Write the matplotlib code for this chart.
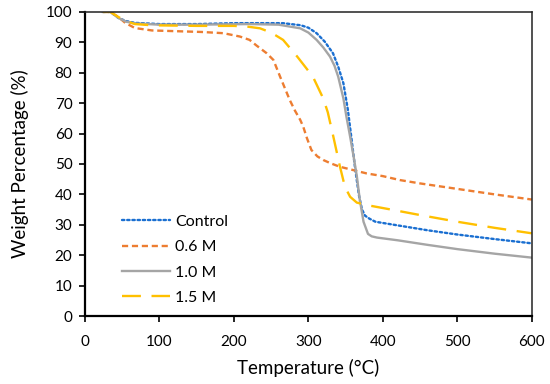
"""TGA curves: weight percentage vs temperature for the four samples."""

import matplotlib.pyplot as plt

plt.rcParams["font.family"] = ["Lato", "DejaVu Sans"]

# values
control_t = [24, 34, 45, 55, 67, 100, 150, 200, 266, 290, 300, 311, 322, 333, 340,
             347, 353, 358, 363, 368, 372, 376, 382, 390, 420, 460, 500, 550, 600]
control_w = [100, 100, 98.0, 97.0, 96.4, 96.0, 96.0, 96.3, 96.3, 95.6, 94.8, 93.0, 90.2,
             86.4, 82.0, 76.5, 67.8, 58.0, 48.0, 39.5, 35.0, 33.0, 32.0, 31.0, 29.8,
             28.2, 26.8, 25.3, 23.9]

m06_t = [24, 34, 45, 54, 67, 90, 157, 186, 208, 221, 230, 244, 253, 262, 275, 282, 289,
         293, 298, 304, 312, 320, 330, 342, 360, 378, 400, 423, 450, 500, 550, 600]
m06_w = [100, 100, 98.3, 96.4, 94.7, 93.9, 93.4, 93.0, 91.9, 90.8, 89.0, 86.4, 84.2, 78.7,
         71.0, 67.5, 64.5, 62.3, 58.5, 54.6, 52.5, 51.3, 50.2, 49.1, 48.0, 46.9, 46.0,
         44.7, 43.6, 41.8, 40.0, 38.3]

m10_t = [24, 34, 45, 55, 67, 100, 150, 221, 260, 289, 300, 311, 320, 329, 335, 340, 347,
         351, 356, 361, 365, 369, 374, 380, 385, 392, 420, 460, 500, 550, 600]
m10_w = [100, 100, 98.0, 96.8, 96.2, 95.8, 95.8, 96.0, 95.8, 94.6, 93.2, 90.8, 88.3, 85.3,
         82.3, 78.7, 71.5, 65.6, 59.0, 52.0, 46.0, 38.2, 31.0, 27.0, 26.2, 25.8, 24.9,
         23.4, 22.0, 20.5, 19.2]

m15_t = [24, 34, 45, 55, 67, 90, 150, 200, 220, 235, 250, 266, 285, 306, 320, 326, 333,
         342, 349, 356, 365, 378, 409, 450, 500, 550, 600]
m15_w = [100, 100, 98.3, 97.0, 96.0, 95.6, 95.4, 95.4, 95.1, 94.6, 93.2, 90.8, 85.3, 78.7,
         71.5, 67.0, 59.5, 49.5, 42.5, 39.2, 37.3, 36.5, 35.1, 33.2, 31.0, 29.0, 27.2]

x_ticks = [0, 100, 200, 300, 400, 500, 600]
y_ticks = [0, 10, 20, 30, 40, 50, 60, 70, 80, 90, 100]

fig = plt.figure(figsize=(5.5, 3.84), dpi=100)
ax = fig.add_axes([0.1545, 0.177, 0.8125, 0.792])

ax.plot(control_t, control_w, color="#1a6fd1", lw=1.7, dashes=(1, 1.2),
        dash_capstyle="round", label="Control")
ax.plot(m06_t, m06_w, color="#ed7d31", lw=1.7, dashes=(2.6, 1.6), label="0.6 M")
ax.plot(m10_t, m10_w, color="#a5a5a5", lw=1.7, label="1.0 M")
ax.plot(m15_t, m15_w, color="#ffc000", lw=1.7, dashes=(8, 4.5), label="1.5 M")

ax.set_xlim(0, 600)
ax.set_ylim(0, 100)
ax.set_xticks(x_ticks)
ax.set_yticks(y_ticks)
ax.tick_params(direction="out", length=4, width=1.2, labelsize=11, colors="black")
ax.tick_params(axis="x", pad=10)
ax.tick_params(axis="y", pad=5)

for side in ("left", "bottom"):
    ax.spines[side].set_linewidth(1.6)
    ax.spines[side].set_color("black")
for side in ("top", "right"):
    ax.spines[side].set_linewidth(1.1)
    ax.spines[side].set_color("#222222")

ax.set_xlabel("Temperature (°C)", fontsize=13.5, labelpad=7)
ax.set_ylabel("Weight Percentage (%)", fontsize=13.5, labelpad=12)

ax.legend(loc="center left", bbox_to_anchor=(0.05, 0.185), frameon=False,
          handlelength=3.0, handletextpad=0.35, labelspacing=0.7, fontsize=11.5)

fig.savefig("out.png", dpi=100)
